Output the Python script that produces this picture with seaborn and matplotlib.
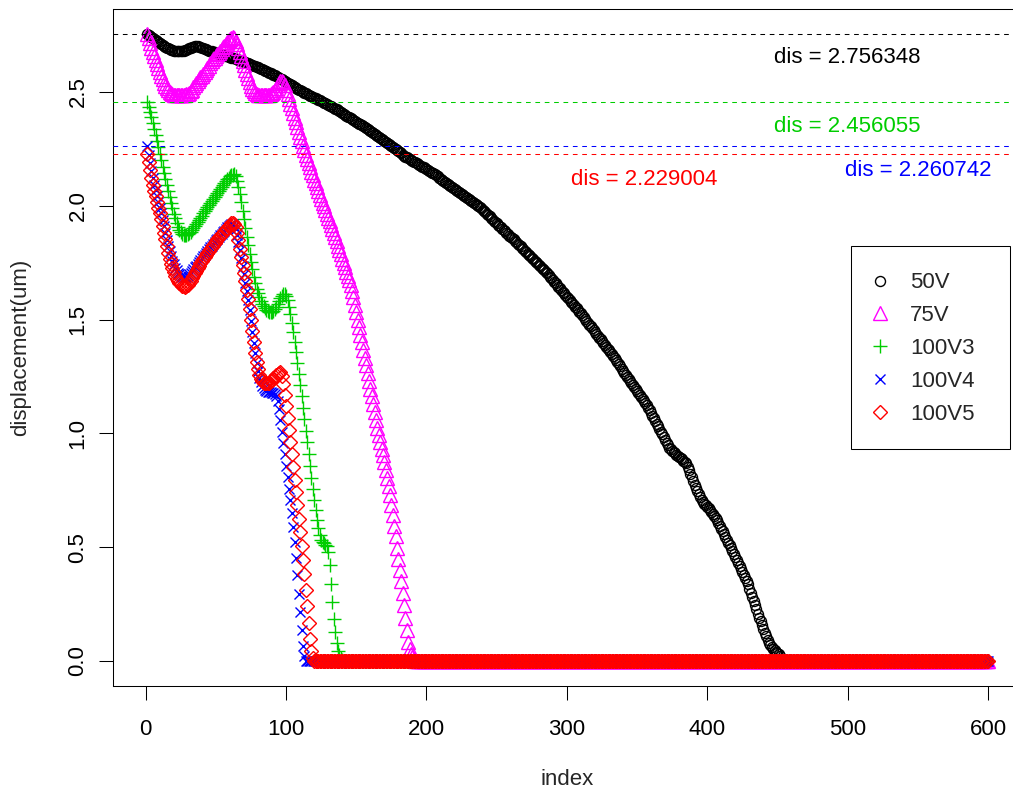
import matplotlib
matplotlib.use("Agg")
import matplotlib.pyplot as plt
import seaborn as sns
from matplotlib.patches import Rectangle

# ---- data (one value per index) ----
idx_all = list(range(1, 601))

val_50v = [
    2.756, 2.752, 2.747, 2.743, 2.738, 2.733, 2.728, 2.723, 2.718, 2.714,
    2.709, 2.705, 2.700, 2.697, 2.694, 2.691, 2.688, 2.686, 2.684, 2.682,
    2.680, 2.679, 2.678, 2.678, 2.678, 2.679, 2.681, 2.683, 2.686, 2.689,
    2.692, 2.695, 2.698, 2.699, 2.700, 2.700, 2.700, 2.698, 2.696, 2.694,
    2.692, 2.690, 2.687, 2.685, 2.682, 2.680, 2.678, 2.676, 2.674, 2.672,
    2.670, 2.668, 2.666, 2.664, 2.662, 2.660, 2.658, 2.656, 2.654, 2.652,
    2.650, 2.649, 2.647, 2.645, 2.643, 2.641, 2.639, 2.637, 2.635, 2.633,
    2.630, 2.628, 2.625, 2.623, 2.620, 2.618, 2.615, 2.613, 2.610, 2.608,
    2.605, 2.602, 2.599, 2.596, 2.593, 2.591, 2.588, 2.585, 2.582, 2.579,
    2.576, 2.573, 2.570, 2.567, 2.563, 2.559, 2.555, 2.552, 2.548, 2.544,
    2.540, 2.537, 2.533, 2.529, 2.525, 2.522, 2.518, 2.514, 2.510, 2.507,
    2.504, 2.501, 2.497, 2.494, 2.491, 2.488, 2.484, 2.481, 2.478, 2.475,
    2.472, 2.469, 2.466, 2.463, 2.459, 2.456, 2.453, 2.450, 2.447, 2.444,
    2.440, 2.437, 2.434, 2.431, 2.427, 2.423, 2.419, 2.416, 2.412, 2.408,
    2.404, 2.400, 2.396, 2.392, 2.388, 2.384, 2.380, 2.377, 2.373, 2.369,
    2.365, 2.361, 2.357, 2.353, 2.349, 2.345, 2.341, 2.337, 2.332, 2.328,
    2.323, 2.319, 2.314, 2.310, 2.305, 2.301, 2.296, 2.292, 2.288, 2.284,
    2.279, 2.275, 2.270, 2.266, 2.262, 2.258, 2.253, 2.249, 2.244, 2.240,
    2.235, 2.230, 2.225, 2.220, 2.215, 2.212, 2.208, 2.205, 2.201, 2.198,
    2.194, 2.190, 2.186, 2.183, 2.179, 2.176, 2.172, 2.168, 2.164, 2.161,
    2.157, 2.154, 2.150, 2.146, 2.142, 2.138, 2.133, 2.129, 2.124, 2.119,
    2.114, 2.110, 2.105, 2.101, 2.096, 2.092, 2.087, 2.083, 2.078, 2.074,
    2.069, 2.065, 2.060, 2.056, 2.051, 2.047, 2.042, 2.038, 2.033, 2.029,
    2.024, 2.020, 2.015, 2.011, 2.006, 2.002, 1.997, 1.993, 1.989, 1.983,
    1.977, 1.971, 1.965, 1.959, 1.953, 1.947, 1.941, 1.935, 1.929, 1.923,
    1.917, 1.911, 1.905, 1.899, 1.893, 1.887, 1.881, 1.875, 1.869, 1.864,
    1.858, 1.852, 1.846, 1.840, 1.834, 1.828, 1.821, 1.815, 1.809, 1.803,
    1.796, 1.790, 1.784, 1.778, 1.772, 1.766, 1.759, 1.753, 1.747, 1.741,
    1.734, 1.728, 1.722, 1.716, 1.710, 1.703, 1.696, 1.689, 1.681, 1.674,
    1.667, 1.660, 1.652, 1.645, 1.638, 1.631, 1.623, 1.616, 1.608, 1.601,
    1.594, 1.587, 1.579, 1.572, 1.564, 1.557, 1.550, 1.543, 1.535, 1.527,
    1.519, 1.511, 1.503, 1.495, 1.486, 1.478, 1.470, 1.462, 1.454, 1.446,
    1.437, 1.429, 1.421, 1.413, 1.405, 1.397, 1.389, 1.381, 1.372, 1.364,
    1.356, 1.348, 1.340, 1.331, 1.321, 1.312, 1.303, 1.294, 1.284, 1.275,
    1.265, 1.256, 1.247, 1.238, 1.229, 1.221, 1.212, 1.203, 1.194, 1.185,
    1.176, 1.168, 1.159, 1.150, 1.141, 1.132, 1.123, 1.113, 1.102, 1.090,
    1.078, 1.066, 1.054, 1.042, 1.030, 1.018, 1.006, 0.995, 0.983, 0.971,
    0.959, 0.947, 0.935, 0.929, 0.923, 0.918, 0.912, 0.906, 0.900, 0.895,
    0.890, 0.885, 0.880, 0.875, 0.870, 0.854, 0.838, 0.823, 0.807, 0.791,
    0.775, 0.761, 0.747, 0.733, 0.719, 0.708, 0.698, 0.691, 0.684, 0.677,
    0.670, 0.662, 0.654, 0.646, 0.638, 0.628, 0.618, 0.606, 0.593, 0.581,
    0.569, 0.557, 0.544, 0.532, 0.520, 0.508, 0.495, 0.483, 0.470, 0.457,
    0.443, 0.430, 0.416, 0.403, 0.390, 0.377, 0.363, 0.350, 0.336, 0.318,
    0.299, 0.281, 0.263, 0.245, 0.226, 0.208, 0.190, 0.174, 0.157, 0.141,
    0.124, 0.108, 0.091, 0.080, 0.068, 0.060, 0.052, 0.046, 0.040, 0.035,
    0.030, 0.020, 0.010,
]
val_50v = val_50v + [0.0] * (len(idx_all) - len(val_50v))

val_75v = [
    2.755, 2.735, 2.715, 2.695, 2.675, 2.657, 2.640, 2.622, 2.604, 2.587,
    2.570, 2.555, 2.540, 2.527, 2.516, 2.507, 2.500, 2.494, 2.490, 2.488,
    2.486, 2.485, 2.485, 2.485, 2.485, 2.486, 2.487, 2.488, 2.490, 2.492,
    2.496, 2.502, 2.510, 2.520, 2.530, 2.540, 2.550, 2.558, 2.565, 2.572,
    2.580, 2.588, 2.597, 2.606, 2.615, 2.625, 2.634, 2.643, 2.651, 2.659,
    2.666, 2.673, 2.680, 2.688, 2.696, 2.704, 2.712, 2.720, 2.727, 2.733,
    2.738, 2.740, 2.736, 2.726, 2.711, 2.695, 2.677, 2.658, 2.638, 2.618,
    2.598, 2.578, 2.560, 2.543, 2.528, 2.514, 2.503, 2.495, 2.490, 2.487,
    2.485, 2.485, 2.485, 2.485, 2.486, 2.486, 2.487, 2.488, 2.490, 2.494,
    2.500, 2.508, 2.518, 2.530, 2.540, 2.547, 2.550, 2.545, 2.530, 2.510,
    2.490, 2.470, 2.448, 2.428, 2.408, 2.387, 2.366, 2.345, 2.325, 2.304,
    2.284, 2.264, 2.245, 2.225, 2.206, 2.187, 2.168, 2.150, 2.133, 2.115,
    2.098, 2.081, 2.064, 2.047, 2.031, 2.014, 1.998, 1.981, 1.965, 1.948,
    1.931, 1.914, 1.897, 1.880, 1.862, 1.843, 1.824, 1.805, 1.786, 1.767,
    1.748, 1.730, 1.711, 1.692, 1.673, 1.650, 1.625, 1.598, 1.566, 1.533,
    1.500, 1.467, 1.433, 1.400, 1.366, 1.332, 1.298, 1.264, 1.230, 1.196,
    1.162, 1.127, 1.093, 1.059, 1.025, 0.993, 0.962, 0.932, 0.903, 0.873,
    0.840, 0.805, 0.768, 0.728, 0.685, 0.640, 0.594, 0.547, 0.498, 0.449,
    0.400, 0.350, 0.298, 0.245, 0.190, 0.135, 0.085, 0.052, 0.032, 0.018,
    0.008,
]
val_75v = val_75v + [0.0] * (len(idx_all) - len(val_75v))

val_100v3 = [
    2.456, 2.435, 2.414, 2.390, 2.365, 2.338, 2.311, 2.283, 2.256, 2.228,
    2.200, 2.172, 2.145, 2.118, 2.091, 2.064, 2.038, 2.012, 1.988, 1.965,
    1.944, 1.925, 1.908, 1.894, 1.883, 1.876, 1.872, 1.870, 1.871, 1.874,
    1.879, 1.886, 1.894, 1.903, 1.912, 1.921, 1.930, 1.939, 1.948, 1.957,
    1.966, 1.975, 1.984, 1.993, 2.002, 2.011, 2.020, 2.029, 2.038, 2.047,
    2.056, 2.065, 2.074, 2.083, 2.092, 2.100, 2.108, 2.116, 2.123, 2.129,
    2.134, 2.137, 2.138, 2.130, 2.110, 2.082, 2.050, 2.015, 1.978, 1.940,
    1.902, 1.864, 1.827, 1.790, 1.754, 1.720, 1.688, 1.660, 1.636, 1.615,
    1.597, 1.582, 1.569, 1.558, 1.549, 1.542, 1.537, 1.534, 1.533, 1.534,
    1.538, 1.545, 1.555, 1.567, 1.580, 1.593, 1.604, 1.612, 1.614, 1.605,
    1.585, 1.557, 1.523, 1.486, 1.446, 1.403, 1.357, 1.310, 1.262, 1.213,
    1.163, 1.113, 1.062, 1.011, 0.960, 0.908, 0.856, 0.805, 0.755, 0.707,
    0.661, 0.619, 0.582, 0.553, 0.533, 0.522, 0.516, 0.511, 0.503, 0.480,
    0.420, 0.340, 0.260, 0.185, 0.125, 0.078, 0.045, 0.025, 0.012, 0.005,
]
val_100v3 = val_100v3 + [0.0] * (len(idx_all) - len(val_100v3))

val_100v4 = [
    2.261, 2.222, 2.186, 2.152, 2.121, 2.093, 2.067, 2.042, 2.017, 1.992,
    1.966, 1.939, 1.910, 1.880, 1.851, 1.824, 1.799, 1.777, 1.758, 1.742,
    1.728, 1.716, 1.706, 1.698, 1.692, 1.688, 1.686, 1.686, 1.688, 1.692,
    1.698, 1.705, 1.713, 1.721, 1.729, 1.737, 1.745, 1.753, 1.761, 1.769,
    1.777, 1.785, 1.793, 1.801, 1.809, 1.817, 1.825, 1.833, 1.841, 1.849,
    1.856, 1.863, 1.870, 1.877, 1.884, 1.891, 1.898, 1.905, 1.911, 1.916,
    1.919, 1.919, 1.913, 1.897, 1.872, 1.841, 1.806, 1.770, 1.734, 1.698,
    1.662, 1.624, 1.584, 1.540, 1.493, 1.445, 1.398, 1.352, 1.310, 1.274,
    1.245, 1.224, 1.209, 1.198, 1.191, 1.186, 1.183, 1.181, 1.180, 1.179,
    1.177, 1.172, 1.162, 1.142, 1.105, 1.058, 1.008, 0.958, 0.908, 0.858,
    0.808, 0.757, 0.705, 0.650, 0.590, 0.524, 0.452, 0.376, 0.296, 0.214,
    0.134, 0.065, 0.020,
]
val_100v4 = val_100v4 + [0.0] * (len(idx_all) - len(val_100v4))

val_100v5 = [
    2.229, 2.190, 2.155, 2.122, 2.093, 2.066, 2.041, 2.016, 1.991, 1.966,
    1.940, 1.912, 1.882, 1.852, 1.822, 1.794, 1.768, 1.745, 1.725, 1.708,
    1.693, 1.680, 1.670, 1.661, 1.654, 1.649, 1.646, 1.645, 1.647, 1.652,
    1.660, 1.670, 1.681, 1.692, 1.703, 1.714, 1.725, 1.736, 1.747, 1.757,
    1.766, 1.775, 1.784, 1.793, 1.802, 1.811, 1.820, 1.829, 1.838, 1.846,
    1.854, 1.861, 1.868, 1.875, 1.882, 1.889, 1.896, 1.903, 1.910, 1.917,
    1.922, 1.924, 1.920, 1.905, 1.880, 1.848, 1.812, 1.776, 1.740, 1.704,
    1.668, 1.630, 1.590, 1.545, 1.497, 1.448, 1.400, 1.355, 1.315, 1.282,
    1.257, 1.240, 1.229, 1.223, 1.220, 1.219, 1.220, 1.223, 1.228, 1.234,
    1.241, 1.248, 1.255, 1.261, 1.266, 1.268, 1.250, 1.215, 1.170, 1.120,
    1.068, 1.015, 0.962, 0.908, 0.853, 0.797, 0.740, 0.683, 0.625, 0.566,
    0.506, 0.444, 0.380, 0.312, 0.240, 0.168, 0.098, 0.045, 0.012,
]
val_100v5 = val_100v5 + [0.0] * (len(idx_all) - len(val_100v5))

series_names = ["50V", "75V", "100V3", "100V4", "100V5"]
series_colors = ["black", "magenta", "#00CD00", "blue", "red"]

# the dashed reference levels and their labels
dis_values = [2.756348, 2.456055, 2.260742, 2.229004]
dis_colors = ["black", "#00CD00", "blue", "red"]
dis_text_x = [500, 500, 550, 355]
dis_text_y = [2.65, 2.35, 2.155, 2.115]

# ---- plotting ----
sns.set_style("white")
plt.rcParams["font.family"] = ["Liberation Sans", "DejaVu Sans"]

fig = plt.figure(figsize=(10.13, 7.97), dpi=100)
ax = fig.add_axes([0.11204, 0.13927, 0.89645, 0.85006])

markers = ["o", "^", "+", "x", "D"]
msizes = [7.2, 10, 10.5, 7.5, 7.5]
ys_list = [val_50v, val_75v, val_100v3, val_100v4, val_100v5]

for name, ys, col, mk, ms in zip(series_names, ys_list, series_colors,
                                  markers, msizes):
    sns.lineplot(x=idx_all, y=ys, ax=ax, estimator=None, sort=False,
                 linestyle="", marker=mk, markersize=ms, mfc="none",
                 mec=col, mew=1.0, color=col, label=name)

for d, c in zip(dis_values, dis_colors):
    ax.axhline(d, color=c, lw=0.75, linestyle=(0, (4.5, 4.5)), zorder=5)

for d, c, tx, ty in zip(dis_values, dis_colors, dis_text_x, dis_text_y):
    ax.text(tx, ty, "dis = %.6f" % d, color=c, fontsize=16,
            ha="center", va="center", zorder=6)

ax.set_xlim(-22.96, 623.96)
ax.set_ylim(-0.11025, 2.8666)
ax.set_xticks([0, 100, 200, 300, 400, 500, 600])
ax.set_yticks([0, 0.5, 1.0, 1.5, 2.0, 2.5])
ax.set_yticklabels(["0.0", "0.5", "1.0", "1.5", "2.0", "2.5"],
                   rotation=90, va="center")
ax.tick_params(axis="both", direction="out", length=10, width=0.75,
               labelsize=16, color="black", labelcolor="black")
ax.tick_params(axis="x", pad=14, bottom=True)
ax.tick_params(axis="y", pad=8, left=True)
for sp in ax.spines.values():
    sp.set_linewidth(0.75)
    sp.set_color("black")

ax.set_xlabel("index", fontsize=16)
ax.set_ylabel("displacement(um)", fontsize=16)
ax.xaxis.set_label_coords(0.5, -0.1226)
ax.yaxis.set_label_coords(-0.0905, 0.5)

handles, labels = ax.get_legend_handles_labels()
ax.legend(handles, labels, loc="center left",
          bbox_to_anchor=(869 / 1013, 1 - 348.5 / 797),
          bbox_transform=fig.transFigure, frameon=False, borderpad=0,
          borderaxespad=0, handlelength=1.0, handletextpad=0.85,
          labelspacing=0.53, fontsize=16, numpoints=1)
fig.add_artist(Rectangle((851 / 1013, 1 - 449 / 797), 159 / 1013, 203 / 797,
                         transform=fig.transFigure, fill=False,
                         edgecolor="black", linewidth=0.75))

fig.savefig("out.png", dpi=100)
